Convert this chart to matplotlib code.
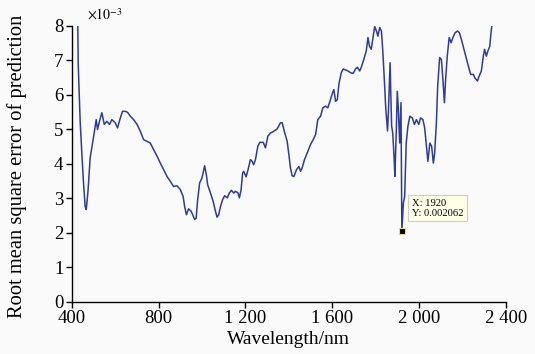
import matplotlib
matplotlib.use('Agg')
import matplotlib.pyplot as plt

# wavelength (nm) and RMSEP (x1e-3)
wavelength = [428, 430, 435, 439, 447, 454, 462, 467, 475, 485, 500, 513, 519, 528, 539,
              550, 562, 574, 585, 600, 611, 624, 634, 647, 657, 670, 685, 701, 716, 731,
              747, 762, 777, 793, 808, 823, 839, 854, 869, 885, 900, 913, 920, 928, 938,
              950, 957, 966, 973, 980, 989, 1000, 1012, 1020, 1026, 1039, 1051, 1062, 1069,
              1077, 1085, 1095, 1104, 1116, 1126, 1135, 1146, 1154, 1166, 1172, 1180, 1187,
              1192, 1203, 1212, 1223, 1231, 1238, 1246, 1257, 1266, 1282, 1292, 1303, 1315,
              1330, 1346, 1361, 1369, 1381, 1392, 1400, 1407, 1415, 1423, 1435, 1446, 1454,
              1461, 1472, 1484, 1500, 1512, 1523, 1533, 1546, 1556, 1569, 1579, 1589, 1601,
              1607, 1615, 1623, 1630, 1641, 1650, 1661, 1672, 1684, 1696, 1707, 1715, 1726,
              1735, 1745, 1756, 1764, 1771, 1779, 1787, 1795, 1803, 1810, 1818, 1826, 1832,
              1838, 1846, 1854, 1858, 1866, 1869, 1873, 1878, 1884, 1888, 1895, 1899, 1904,
              1910, 1916, 1920, 1927, 1933, 1940, 1948, 1957, 1968, 1978, 1987, 1998, 2006,
              2017, 2025, 2033, 2040, 2049, 2057, 2065, 2071, 2079, 2085, 2094, 2102, 2109,
              2116, 2121, 2129, 2138, 2147, 2155, 2165, 2176, 2185, 2194, 2206, 2222, 2237,
              2249, 2256, 2268, 2279, 2286, 2295, 2301, 2309, 2316, 2325, 2329, 2335]
rmsep = [8.1, 6.9, 6.0, 5.23, 4.26, 3.49, 2.76, 2.67, 3.2, 4.17, 4.75, 5.28, 4.99, 5.23, 5.48,
         5.14, 5.23, 5.14, 5.28, 5.19, 5.04, 5.33, 5.52, 5.52, 5.49, 5.38, 5.28, 5.14, 4.94, 4.70,
         4.65, 4.60, 4.41, 4.22, 4.02, 3.83, 3.63, 3.49, 3.34, 3.36, 3.25, 3.05, 2.76, 2.52, 2.69,
         2.62, 2.52, 2.38, 2.42, 2.96, 3.44, 3.59, 3.94, 3.68, 3.39, 3.15, 2.91, 2.62, 2.45,
         2.52, 2.76, 2.96, 3.07, 3.01, 3.15, 3.23, 3.15, 3.20, 3.15, 3.01, 3.25, 3.73,
         3.78, 3.62, 3.83, 4.12, 4.07, 3.97, 4.12, 4.51, 4.62, 4.62, 4.46, 4.80, 4.89,
         4.94, 5.01, 5.19, 5.19, 4.89, 4.65, 4.26, 3.88, 3.65, 3.63, 3.83, 3.92, 3.78,
         3.88, 4.12, 4.31, 4.56, 4.70, 4.85, 5.28, 5.38, 5.62, 5.67, 5.62, 5.81, 6.06,
         6.15, 5.81, 5.86, 6.30, 6.64, 6.75, 6.72, 6.69, 6.64, 6.62, 6.75, 6.80, 6.69,
         6.83, 7.03, 7.27, 7.66, 7.41, 7.32, 7.66, 7.98, 7.85, 7.70, 7.95, 7.85, 7.3,
         6.6, 5.6, 4.95, 5.48, 6.93, 6.06, 5.09, 4.89, 4.22, 3.63, 5.09, 6.1, 5.57,
         4.6, 5.77, 2.062, 2.86, 3.05, 4.6, 5.09, 5.38, 5.33, 5.14, 5.28, 5.14, 5.33,
         5.28, 5.04, 4.51, 4.07, 4.6, 4.51, 4.02, 4.31, 5.19, 6.25, 7.08, 7.03, 6.45,
         5.77, 6.40, 7.12, 7.66, 7.51, 7.66, 7.80, 7.85, 7.80, 7.61, 7.32, 6.93, 6.59,
         6.59, 6.49, 6.40, 6.59, 6.69, 7.12, 7.32, 7.12, 7.27, 7.41, 7.70, 8.05]

xticks = [400, 800, 1200, 1600, 2000, 2400]
xtick_labels = ['400', '800', '1 200', '1 600', '2 000', '2 400']
yticks = [0, 1, 2, 3, 4, 5, 6, 7, 8]

tip_x, tip_y = 1920, 0.002062

plt.rcParams['font.family'] = ['Liberation Serif', 'DejaVu Serif']
plt.rcParams['mathtext.fontset'] = 'stix'

fig = plt.figure(figsize=(5.35, 3.54), dpi=100, facecolor='#fafafa')
ax = fig.add_axes([0.134, 0.148, 0.812, 0.779])
ax.set_facecolor('#fafafa')

ax.plot(wavelength, rmsep, color='#2e3b9c', lw=1.1)

# data tip
ax.plot([tip_x], [tip_y * 1e3], 's', ms=5, mfc='black', mec='#e8d890', mew=0.8)
ax.annotate(f'X: {tip_x}\nY: {tip_y}', xy=(tip_x, tip_y * 1e3),
            xytext=(10, 13), textcoords='offset pixels', ha='left', va='bottom',
            fontsize=7.6, linespacing=1.1,
            bbox=dict(boxstyle='square,pad=0.35', fc='#ffffe8', ec='#cfcfb8', lw=0.8))

ax.set_xlim(400, 2400)
ax.set_ylim(0, 8)
ax.set_xticks(xticks)
ax.set_xticklabels(xtick_labels)
ax.set_yticks(yticks)
ax.tick_params(direction='out', length=4, width=1, labelsize=13.5, pad=2)

for side in ['top', 'right']:
    ax.spines[side].set_visible(False)
for side in ['left', 'bottom']:
    ax.spines[side].set_linewidth(1)

ax.set_xlabel('Wavelength/nm', fontsize=14)
ax.set_ylabel('Root mean square error of prediction', fontsize=14.8)
ax.xaxis.set_label_coords(0.5, -0.105)
ax.yaxis.set_label_coords(-0.103, 0.49)

ax.text(0.035, 1.012, r'$\times10^{-3}$', transform=ax.transAxes,
        ha='left', va='bottom', fontsize=10)

fig.savefig('out.png', dpi=100, facecolor=fig.get_facecolor())
